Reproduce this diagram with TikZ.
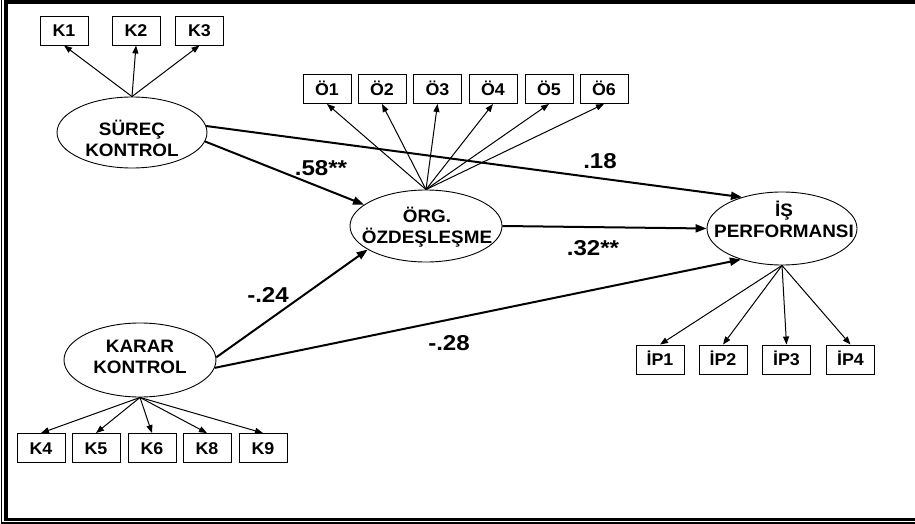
\documentclass[tikz,border=0pt]{standalone}
\usepackage{fontspec}
\newfontfamily\labelfont{Liberation Sans Bold}[FakeStretch=1.05]
\newfontfamily\coeffont{Liberation Sans Bold}[FakeStretch=1.12]
\usetikzlibrary{arrows.meta,shapes.geometric}

\begin{document}
\begin{tikzpicture}[x=1pt,y=-1pt,
  ind/.style={draw,line width=0.9pt,minimum width=48pt,minimum height=29pt,inner sep=0pt,
    font=\labelfont\fontsize{17}{18}\selectfont,text height=12.2pt,text depth=0pt},
  lat/.style={draw,ellipse,line width=0.9pt,inner sep=0pt},
  lattext/.style={align=center,inner sep=0pt,font=\labelfont\fontsize{18}{21}\selectfont},
  load/.style={line width=1pt,-{Triangle[length=8pt,width=6pt]}},
  effect/.style={line width=2pt,-{Triangle[length=11pt,width=8pt]}},
  coef/.style={inner sep=0pt,font=\coeffont\fontsize{21.5}{24}\selectfont}]

\useasboundingbox (0,0) rectangle (915,524);

% double frame
\draw[line width=1.2pt] (1.5,-5) -- (1.5,523) -- (925,523);
\draw[line width=3.6pt] (925,1.8) -- (6,1.8) -- (6,519.5) -- (925,519.5);

% latent variables
\node[lat,minimum width=150pt,minimum height=71pt] (sk) at (132,132.5) {};
\node[lat,minimum width=152pt,minimum height=72pt] (org) at (426,226) {};
\node[lat,minimum width=150pt,minimum height=73pt] (ip) at (782,228.5) {};
\node[lat,minimum width=152pt,minimum height=74pt] (kk) at (140,360) {};

\node[lattext] (sk-t) at (132,138) {SÜREÇ\\KONTROL};
\node[lattext] (org-t) at (427,227) {ÖRG.\\ÖZDEŞLEŞME};
\node[lattext] (ip-t) at (784,219) {İŞ\\PERFORMANSI};
\node[lattext] (kk-t) at (140,357) {KARAR\\KONTROL};

% indicators
\node[ind] (k1) at (64,30.5) {K1};
\node[ind] (k2) at (136,30.5) {K2};
\node[ind] (k3) at (199.5,30.5) {K3};

\node[ind] (o1) at (327,89) {Ö1};
\node[ind] (o2) at (382,89) {Ö2};
\node[ind] (o3) at (437.5,89) {Ö3};
\node[ind] (o4) at (493,89) {Ö4};
\node[ind] (o5) at (549,89) {Ö5};
\node[ind] (o6) at (604,89) {Ö6};

\node[ind] (p1) at (660,359.5) {İP1};
\node[ind] (p2) at (723,359.5) {İP2};
\node[ind] (p3) at (786.5,359.5) {İP3};
\node[ind] (p4) at (850.5,359.5) {İP4};

\node[ind] (k4) at (41,448) {K4};
\node[ind] (k5) at (96,448) {K5};
\node[ind] (k6) at (152,448) {K6};
\node[ind] (k8) at (207,448) {K8};
\node[ind] (k9) at (263,448) {K9};

% loadings
\foreach \b in {k1,k2,k3} \draw[load] (sk.north) -- (\b.south);
\foreach \b in {o1,o2,o3,o4,o5,o6} \draw[load] (org.north) -- (\b.south);
\foreach \b in {p1,p2,p3,p4} \draw[load] (ip.south) -- (\b.north);
\foreach \b in {k4,k5,k6,k8,k9} \draw[load] (kk.south) -- (\b.north);

% structural paths
\draw[effect] (sk.5) -- (ip.142);
\draw[effect] (sk.-7) -- (org.161);
\draw[effect] (org.east) -- (ip.west);
\draw[effect] (kk.2) -- (org.202);
\draw[effect] (kk.-6) -- (ip.217);

% path coefficients
\node[coef] (c58) at (321,168) {.58**};
\node[coef] (c18) at (600,161.5) {.18};
\node[coef] (c32) at (593,248) {.32**};
\node[coef] (c24) at (268,295) {-.24};
\node[coef] (c28) at (449,343) {-.28};
\end{tikzpicture}
\end{document}
